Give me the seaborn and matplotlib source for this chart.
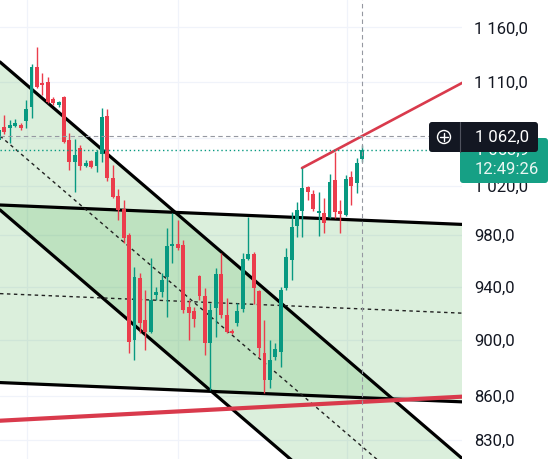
import numpy as np
import seaborn as sns
import matplotlib.pyplot as plt
from matplotlib.patches import Polygon, FancyBboxPatch, Circle
from matplotlib.lines import Line2D
from matplotlib.ticker import NullLocator

# candles (one per bar, left to right)
opens = [1058.8, 1070.0, 1069.1, 1070.9, 1071.7, 1075.2, 1087.5, 1123.4, 1108.9, 1109.8,
         1094.6, 1089.3, 1096.4, 1058.8, 1040.0, 1051.9, 1036.7, 1040.8, 1036.7, 1046.8,
         1079.7, 1026.7, 1011.7, 1001.1, 980.2, 900.1, 946.5, 914.8, 906.0, 933.9,
         935.9, 947.3, 971.5, 973.0, 972.2, 924.5, 921.6, 948.1, 933.1, 898.0,
         923.8, 949.6, 918.6, 906.7, 912.6, 923.0, 961.2, 965.1, 936.6, 890.7,
         871.4, 887.7, 891.4, 938.9, 960.5, 987.4, 999.4, 1019.2, 1013.4, 997.9,
         997.9, 994.6, 1025.0, 999.4, 996.3, 1027.5, 1022.5, 1042.5]
highs = [1069.1, 1080.5, 1076.1, 1077.0, 1073.5, 1093.7, 1126.1, 1141.8, 1117.9, 1114.3,
         1096.4, 1092.8, 1097.3, 1064.9, 1059.7, 1054.5, 1041.7, 1041.7, 1050.2, 1086.6,
         1085.8, 1037.5, 1017.5, 1008.5, 981.8, 955.1, 950.4, 937.4, 961.9, 939.7,
         950.4, 985.8, 997.9, 992.2, 976.2, 929.8, 924.5, 948.9, 938.9, 927.5,
         954.3, 965.9, 931.3, 908.2, 927.5, 965.9, 994.6, 966.7, 937.4, 914.8,
         900.1, 898.0, 939.7, 969.9, 998.7, 1006.8, 1034.9, 1020.1, 1016.7, 1015.0,
         1010.1, 1030.0, 1048.5, 1008.5, 1029.1, 1032.5, 1043.4, 1054.5]
lows = [1054.5, 1064.0, 1056.2, 1070.0, 1067.4, 1069.1, 1077.9, 1104.4, 1098.1, 1091.1,
        1089.3, 1087.5, 1056.2, 1033.3, 1015.0, 1033.3, 1035.8, 1035.0, 1031.6, 1040.0,
        1024.2, 1010.1, 992.2, 973.8, 890.7, 885.6, 905.2, 892.8, 905.2, 929.8,
        932.1, 917.0, 958.2, 968.3, 920.1, 900.1, 909.6, 929.8, 889.3, 864.4,
        902.3, 916.3, 905.2, 904.5, 910.4, 920.8, 960.5, 926.8, 887.7, 862.3,
        865.8, 885.6, 880.6, 937.4, 945.0, 978.6, 978.6, 1008.5, 999.4, 979.4,
        981.8, 993.8, 993.8, 981.8, 995.5, 1004.4, 1014.2, 1040.0]
closes = [1067.4, 1065.7, 1071.7, 1073.5, 1069.1, 1085.8, 1123.4, 1105.3, 1107.1, 1091.9,
          1091.1, 1091.9, 1057.1, 1040.0, 1046.0, 1036.7, 1039.1, 1035.8, 1048.5, 1078.8,
          1026.7, 1010.9, 1000.3, 977.8, 898.7, 947.3, 912.6, 906.0, 929.8, 935.9,
          945.0, 971.5, 973.0, 969.9, 922.3, 920.1, 915.6, 933.1, 898.0, 922.3,
          949.6, 918.6, 906.0, 905.2, 921.6, 961.2, 965.1, 938.9, 894.3, 871.4,
          885.6, 893.6, 937.4, 962.8, 986.6, 1000.3, 1018.4, 1015.0, 1001.1, 999.4,
          989.8, 1023.3, 998.7, 997.1, 1025.8, 1020.1, 1039.1, 1050.2]

# drawings: descending channel, flat channel, two red trend lines
chan_x = [0.185, 85.45]
chan_top = [1127.9, 817.6]
chan_mid = [1062.2, 770.0]
chan_bot = [1000.3, 725.1]
flat_top = [1004.3, 988.6]
flat_mid = [934.6, 919.9]
flat_bot = [869.5, 856.0]
red_low_x = [0.185, 86.93]
red_low = [843.0, 859.9]
red_up_x = [55.92, 86.93]
red_up = [1034.9, 1112.7]

cursor_price = 1062.0
cursor_bar = 67
grid_x = [5.17, 33.04, 64.23]
yticks = [830, 860, 900, 940, 980, 1020, 1060, 1110, 1160]
ylabels = ["830,0", "860,0", "900,0", "940,0", "980,0", "1 020,0", "1 060,0", "1 110,0", "1 160,0"]

GREEN = "#089981"
RED = "#eb3d4c"
FILL = "#4caf50"

sns.set_theme(style="white")
plt.rcParams["font.family"] = ["Roboto", "DejaVu Sans"]

fig = plt.figure(figsize=(5.54, 4.59), dpi=100)
ax = fig.add_axes([0, 0, 462 / 554, 1])
ax.set_yscale("log")
ax.set_xlim(0.185, 85.45)
ax.set_ylim(817.2, 1186.1)

# grid
for t in yticks:
    ax.axhline(t, color="#f0f3fa", lw=0.9, zorder=0)
for gx in grid_x:
    ax.axvline(gx, color="#f0f3fa", lw=0.9, zorder=0)

# channel fills
def band(xs, top, bot):
    pts = [(xs[0], top[0]), (xs[1], top[1]), (xs[1], bot[1]), (xs[0], bot[0])]
    ax.add_patch(Polygon(pts, closed=True, facecolor=FILL, alpha=0.2, edgecolor="none", zorder=1))

band(chan_x, chan_top, chan_bot)
band(chan_x, flat_top, flat_bot)

for ys in [chan_top, chan_bot, flat_top, flat_bot]:
    sns.lineplot(x=chan_x, y=ys, color="black", linewidth=2.3, ax=ax, zorder=3)
for ys in [chan_mid, flat_mid]:
    sns.lineplot(x=chan_x, y=ys, color="#222222", linewidth=1.0, linestyle=(0, (2.5, 2.5)), ax=ax, zorder=3)

sns.lineplot(x=red_low_x, y=red_low, color="#d93a4c", linewidth=3.0, ax=ax, zorder=3)
sns.lineplot(x=red_up_x, y=red_up, color="#d93a4c", linewidth=1.9, ax=ax, zorder=3)

# candles
o = np.array(opens)
c = np.array(closes)
xs = np.arange(len(o))
cols = np.where(c >= o, GREEN, RED)
ax.vlines(xs, lows, highs, colors=cols, linewidth=1.0, zorder=4)
ax.bar(xs, np.abs(c - o), bottom=np.minimum(o, c), width=0.72, color=cols, linewidth=0, zorder=5)

# crosshair and last price line
ax.axhline(cursor_price, color="#9598a1", lw=0.8, ls=(0, (4, 3)), zorder=6)
ax.axvline(cursor_bar, color="#9598a1", lw=0.8, ls=(0, (4, 3)), zorder=6)
ax.axhline(closes[-1], color=GREEN, lw=1.0, ls=(0, (1, 2)), zorder=6)

ax.yaxis.tick_right()
ax.set_yticks(yticks, ylabels)
ax.yaxis.set_minor_locator(NullLocator())
ax.set_xticks([])
ax.tick_params(axis="y", length=0, pad=8.5, labelsize=12, labelcolor="#131722")
for s in ax.spines.values():
    s.set_visible(False)

# price labels on the scale
tr = fig.dpi_scale_trans
fig.add_artist(FancyBboxPatch((4.60, 2.76), 0.88, 0.45, boxstyle="round,pad=0,rounding_size=0.03",
                              fc="#16a085", ec="none", transform=tr, zorder=8))
fig.text(4.75, 3.09, "1 053,9", color="white", fontsize=12, va="center", transform=tr, zorder=9)
fig.text(4.75, 2.90, "12:49:26", color="#eaf6f2", fontsize=12, va="center", transform=tr, zorder=9)
fig.add_artist(FancyBboxPatch((4.29, 3.07), 1.09, 0.30, boxstyle="round,pad=0,rounding_size=0.03",
                              fc="#131722", ec="none", transform=tr, zorder=10))
fig.text(4.75, 3.22, "1 062,0", color="white", fontsize=12, va="center", transform=tr, zorder=11)
fig.add_artist(Circle((4.44, 3.22), 0.065, fill=False, ec="white", lw=1.0, transform=tr, zorder=11))
fig.add_artist(Line2D([4.40, 4.48], [3.22, 3.22], color="white", lw=1.0, transform=tr, zorder=11))
fig.add_artist(Line2D([4.44, 4.44], [3.18, 3.26], color="white", lw=1.0, transform=tr, zorder=11))
fig.add_artist(Line2D([4.60, 4.60], [3.07, 3.37], color="#50535e", lw=0.8, transform=tr, zorder=11))

fig.savefig("out.png", dpi=100, facecolor="white")
